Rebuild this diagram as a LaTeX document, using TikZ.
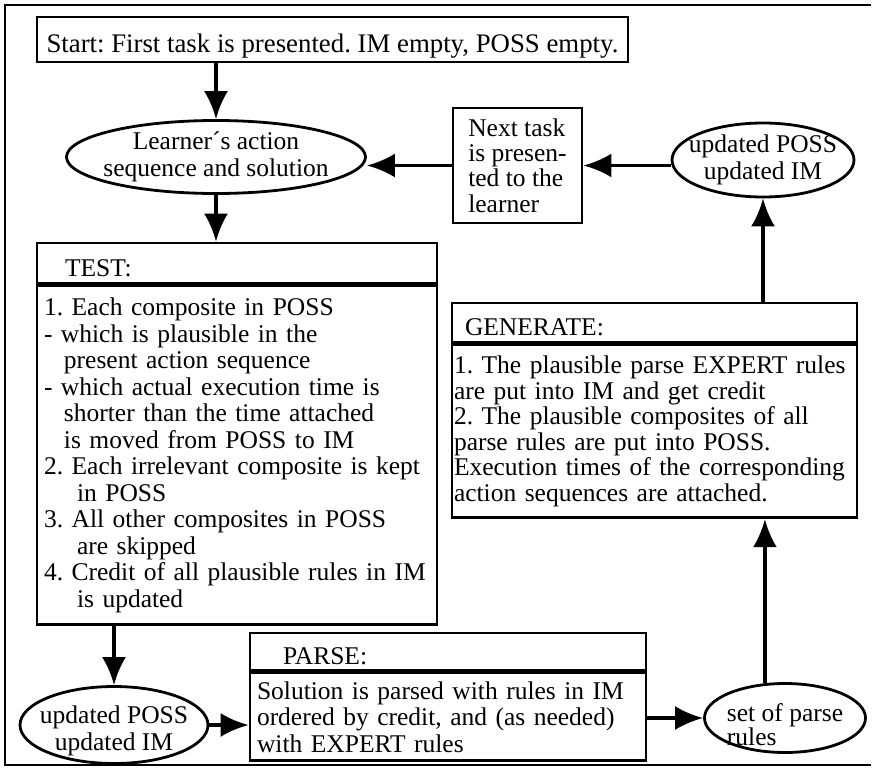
\documentclass[tikz,border=0pt]{standalone}
\usepackage{fontspec}
\setmainfont{Liberation Serif}
\usetikzlibrary{arrows.meta,shapes.geometric}
\newcommand{\tightlines}{\fontsize{25.5}{24}\selectfont\lineskiplimit -50pt\relax}
\frenchspacing

\begin{document}
\begin{tikzpicture}[
				x=1pt, y=-1pt,
				box style/.style={
					draw,
					line width=2.8pt,
					inner sep=0pt,
					font=\fontsize{25.5}{26.5}\selectfont
				},
				head style/.style={
					box style,
					align=left,
					text height=26pt,
					text depth=0pt
				},
				body style/.style={
					box style,
					align=left,
					anchor=north
				},
				oval style/.style={
					draw,
					ellipse,
					line width=2.8pt,
					inner sep=0pt
				},
				oval text/.style={
					align=center,
					font=\fontsize{25.5}{26.5}\selectfont
				},
				line style/.style={line width=3.5pt},
				>={Latex[length=28pt,width=24pt]}
				]
				
				\useasboundingbox (0,0) rectangle (873,768);
				\draw[line width=1.2pt] (871,5) -- (5,5) -- (5,765) -- (871,765);
				
				\node[box style, minimum width=591pt, minimum height=45pt, text height=26pt, text depth=0pt,
				font=\fontsize{26.8}{27}\selectfont] (start) at (332.5,39.5)
				{Start: First task is presented. IM empty, POSS empty.};
				
				\node[oval style, minimum width=299pt, minimum height=73pt,
				label={[oval text]center:{Learner´s action\\sequence and solution}}] (learner) at (216,157) {};
				
				\node[box style, align=left, minimum width=129pt, minimum height=115pt,
				font=\fontsize{25.5}{25.4}\selectfont] (next) at (517.5,165.5)
				{Next task\\is presen-\\ted to the\\learner};
				
				\node[oval style, minimum width=182pt, minimum height=74pt,
				label={[oval text]center:{updated POSS\\updated IM}}] (topupd) at (763,160) {};
				
				% test
				\node[head style, text width=344pt, inner xsep=28pt, minimum height=40pt] (testhead) at (237,263) {TEST:};
				\node[body style, text width=386pt, inner xsep=7pt, minimum height=339pt] (testbody) at (testhead.south)
				{1. Each composite in POSS\\
					- which is plausible in the\\
					\hspace*{20pt}present action sequence\\
					- which actual execution time is\\
					\hspace*{20pt}shorter than the time attached\\
					\hspace*{20pt}is moved from POSS to IM\\
					2. Each irrelevant composite is kept\\
					\hspace*{33pt}in POSS\\
					3. All other composites in POSS\\
					\hspace*{33pt}are skipped\\
					4. Credit of all plausible rules in IM\\
					\hspace*{33pt}is updated};
				
				% generate
				\node[head style, text width=379pt, inner xsep=13pt, minimum height=39pt] (genhead) at (654.5,322.5) {GENERATE:};
				\node[body style, text width=401pt, inner xsep=2pt, minimum height=173pt,
				font=\fontsize{25.5}{25.6}\selectfont] (genbody) at (genhead.south)
				{1. The plausible parse EXPERT rules\\
					are put into IM and get credit\\
					2. The plausible composites of all\\
					parse rules are put into POSS.\\
					Execution times of the corresponding\\
					action sequences are attached.};
				
				% parse
				\node[head style, text width=330pt, inner xsep=33pt, minimum height=37pt] (parsehead) at (448,651.5) {PARSE:};
				\node[body style, text width=382pt, inner xsep=7pt, minimum height=88pt] (parsebody) at (parsehead.south)
				{Solution is parsed with rules in IM\\
					ordered by credit, and (as needed)\\
					with EXPERT rules};
				
				\node[oval style, minimum width=188pt, minimum height=77pt,
				label={[oval text, yshift=-6pt]center:{updated POSS\\updated IM}}] (botupd) at (114,725) {};
				
				\node[oval style, minimum width=161pt, minimum height=69pt,
				label={[oval text, align=left, yshift=-7pt, font=\tightlines]center:{set of parse\\rules}}] (setrules) at (785,718) {};
				
				
				\draw[->, line style] (start.south -| learner.north) -- (learner.north);
				\draw[->, line style] (learner.south) -- (learner.south |- testhead.north);
				\draw[->, line style] (next.west) -- (next.west -| learner.east);
				\draw[->, line style] (topupd.west |- next.east) -- (next.east);
				\draw[->, line style] (genhead.north -| topupd.south) -- (topupd.south);
				\draw[->, line style] (setrules.120) -- (setrules.120 |- genbody.south);
				\draw[->, line style] (testbody.south -| botupd.north) -- (botupd.north);
				\draw[->, line style] (botupd.east) -- (botupd.east -| parsebody.west);
				\draw[->, line style] (parsebody.east |- setrules.west) -- (setrules.west);
				
			\end{tikzpicture}
\end{document}
